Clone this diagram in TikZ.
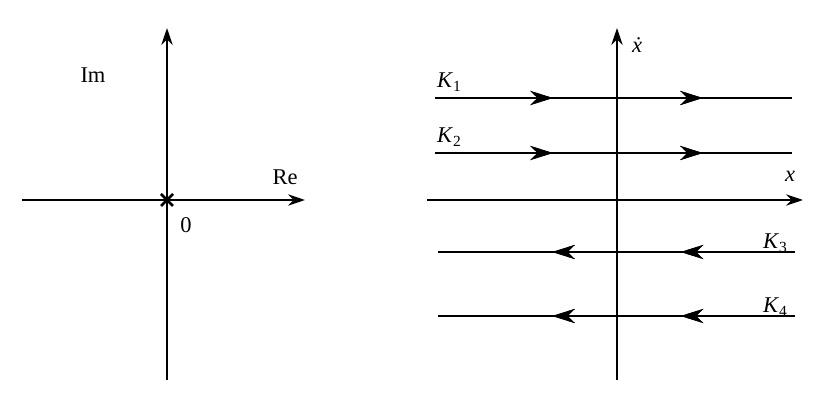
\documentclass[tikz,border=0pt]{standalone}
\usepackage{fontspec}
\setmainfont{Liberation Serif}
\usetikzlibrary{arrows.meta,decorations.markings}
\tikzset{
  axis/.style={line width=1.7pt,-{Stealth[length=12pt,width=8pt]}},
  traj/.style={line width=1.7pt},
  tipat/.style={postaction={decorate},decoration={markings,
      mark=at position #1 with {\arrow{Stealth[length=16pt,width=10pt]}}}},
  lbl/.style={font=\fontsize{16}{18}\selectfont}
}
\newcommand{\kname}[1]{\textit{K}\raisebox{-0.35ex}{\fontsize{11}{13}\selectfont #1}}
\begin{document}
\begin{tikzpicture}[x=0.025cm,y=-0.025cm]
\useasboundingbox (0,0) rectangle (836,406);
% s-plane
\coordinate (lw) at (22,200);
\coordinate (le) at (305,200);
\coordinate (ls) at (167,380);
\coordinate (ln) at (167,28);
\coordinate (o) at (167,200);
\draw[axis] (lw) -- (le);
\draw[axis] (ls) -- (ln);
\draw[line width=1.8pt] ([shift={(-6,-6)}]o) -- ([shift={(6,6)}]o)
  ([shift={(-6,6)}]o) -- ([shift={(6,-6)}]o);
\node[lbl] (im) at (93,75) {Im};
\node[lbl] (re) at (285,177) {Re};
\node[lbl] (zero) at (186,225) {0};
% phase plane
\coordinate (rw) at (427,200);
\coordinate (re2) at (803,200);
\coordinate (rs) at (617,380);
\coordinate (rn) at (617,28);
\draw[axis] (rw) -- (re2);
\draw[axis] (rs) -- (rn);
\node[lbl] (xd) at (637,45) {\textit{\.x}};
\node[lbl] (xl) at (790,176) {\textit{x}};
% trajectories
\coordinate (k1a) at (435,98);  \coordinate (k1b) at (792,98);
\coordinate (k2a) at (435,153); \coordinate (k2b) at (792,153);
\coordinate (k3a) at (795,252); \coordinate (k3b) at (438,252);
\coordinate (k4a) at (795,316); \coordinate (k4b) at (438,316);
\foreach \k in {k1,k2}
  \draw[traj,tipat=0.33,tipat=0.75] (\k a) -- (\k b);
\foreach \k in {k3,k4}
  \draw[traj,tipat=0.32,tipat=0.68] (\k a) -- (\k b);
\node[lbl] (K1) at (449,82) {\kname{1}};
\node[lbl] (K2) at (449,137) {\kname{2}};
\node[lbl] (K3) at (775,243) {\kname{3}};
\node[lbl] (K4) at (775,307) {\kname{4}};
\end{tikzpicture}
\end{document}
